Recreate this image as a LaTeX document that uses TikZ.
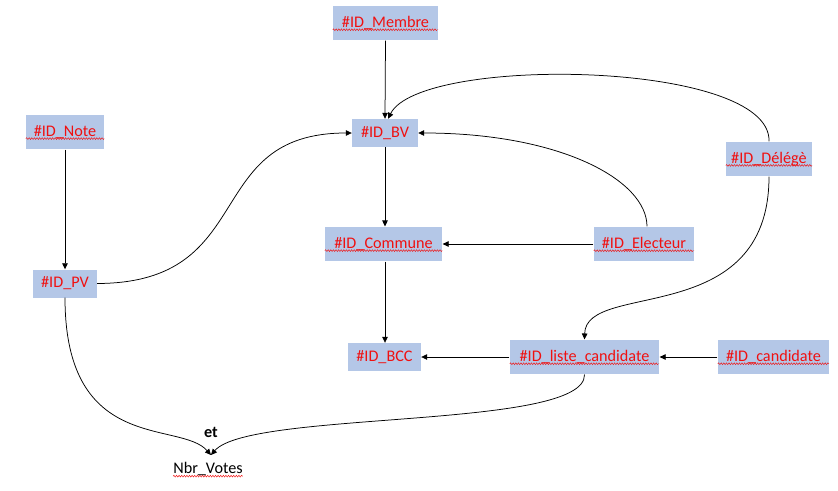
\documentclass[tikz,border=0pt]{standalone}
\usepackage{fontspec}
\setmainfont{Carlito}
\usetikzlibrary{arrows.meta,decorations.pathmorphing}
\definecolor{boxfill}{HTML}{B4C7E7}
\definecolor{idred}{HTML}{F01010}
\tikzset{
  idbox/.style={fill=boxfill, text=idred, minimum height=28pt, inner xsep=0pt,
    font=\fontsize{16.2}{19}\selectfont, anchor=center},
  link/.style={draw=black, line width=0.75pt, -{Triangle[length=6pt,width=5.5pt]}},
  squig/.style={draw=idred, line width=0.45pt,
    decorate, decoration={snake, amplitude=0.9pt, segment length=2.6pt}},
}
% word with a wavy spelling mark beneath it
\newcommand\wavyword[1]{\tikz[baseline=(w.base)]{\node[inner sep=0pt] (w) {#1};
  \draw[squig] ([yshift=-2.2pt]w.base west) -- ([yshift=-2.2pt]w.base east);}}
\begin{document}
\begin{tikzpicture}[x=1pt,y=-1pt]
\useasboundingbox (0,0) rectangle (838,490);

% entity boxes
\node[idbox, minimum width=105pt] (membre)   at (385.5,23)  {\wavyword{\#ID\_Membre}};
\node[idbox, minimum width=78pt]  (note)     at (65,132)    {\wavyword{\#ID\_Note}};
\node[idbox, minimum width=66pt]  (bv)       at (385,133)   {\#ID\_BV};
\node[idbox, minimum width=86pt]  (delegue)  at (769,159)   {\wavyword{\#ID\_Délégè}};
\node[idbox, minimum width=117pt] (commune)  at (383.5,244) {\wavyword{\#ID\_Commune}};
\node[idbox, minimum width=100pt] (electeur) at (644,244)   {\wavyword{\#ID\_Electeur}};
\node[idbox, minimum width=64pt]  (pv)       at (65,283.5)  {\#ID\_PV};
\node[idbox, minimum width=73pt]  (bcc)      at (384.5,357) {\#ID\_BCC};
\node[idbox, minimum width=149pt] (liste)    at (584.5,357) {\wavyword{\#ID\_liste\_candidate}};
\node[idbox, minimum width=111pt] (cand)     at (773.5,357) {\wavyword{\#ID\_candidate}};

% result label
\coordinate (junc) at (211,455);
\node[font=\fontsize{16.2}{19}\selectfont\bfseries] (et) at (211,432) {et};
\node[font=\fontsize{16.2}{19}\selectfont, inner sep=0pt] (votes) at (208,470) {\wavyword{Nbr\_Votes}};

% straight links
\draw[link] (membre.south) -- (bv.north);
\draw[link] (note.south) -- (pv.north);
\draw[link] (bv.south) -- (bv.south |- commune.north);
\draw[link] (bv.south |- commune.south) -- (bv.south |- bcc.north);
\draw[link] (electeur.west) -- (commune.east);
\draw[link] (cand.west) -- (liste.east);
\draw[link] (liste.west) -- (bcc.east);

% curved links
\draw[link] ([xshift=3pt]electeur.north) .. controls (647,180) and (560,133) .. (bv.east);
\draw[link] (delegue.north) .. controls (772,60) and (420,55) .. ([xshift=3pt]bv.north);
\draw[link] (delegue.south) .. controls (769,330) and (586,280) .. (liste.north);
\draw[link] (pv.east) .. controls (260,283) and (200,133) .. (bv.west);
\draw[link] (pv.south) .. controls (65,455) and (180,420) .. (junc);
\draw[link] (liste.south) .. controls (586,430) and (250,410) .. (junc);
\end{tikzpicture}
\end{document}
